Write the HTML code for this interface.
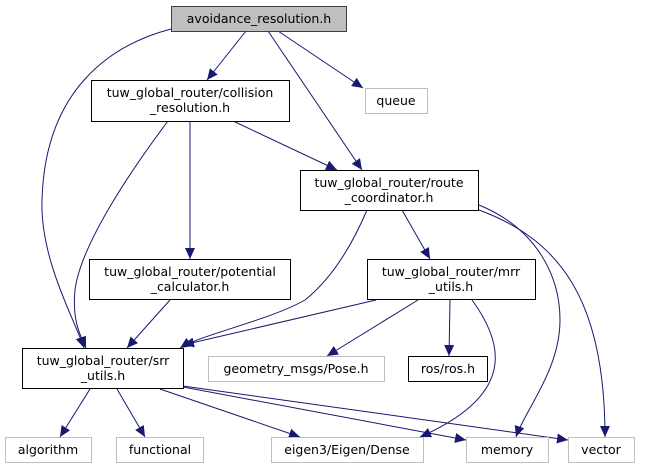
<!DOCTYPE html>
<html><head><meta charset="utf-8"><style>
html,body{margin:0;padding:0;background:#fff;}
svg{display:block;}
text{font-family:"DejaVu Sans","Liberation Sans",sans-serif;font-size:12.5px;fill:#000;text-anchor:middle;}
</style></head><body>
<svg width="649" height="469" viewBox="0 0 649 469" xmlns="http://www.w3.org/2000/svg">
<defs>
<marker id="a" markerUnits="userSpaceOnUse" markerWidth="12" markerHeight="10" refX="11" refY="5" orient="auto">
<path d="M0,0 L11,5 L0,10 Z" fill="#191970"/>
</marker>
</defs>
<g fill="none" stroke="#191970" stroke-width="1" marker-end="url(#a)">
<path d="M246,31 L207,80"/>
<path d="M268,31 L362,170"/>
<path d="M278,31 L363,88"/>
<path d="M171,29 C110,45 45,90 42,200 C40,260 75,320 84,348"/>
<path d="M168,121 C120,185 80,250 75,290 C72,320 80,335 86,348"/>
<path d="M190,121 L190,259"/>
<path d="M233,121 L337,170"/>
<path d="M367,210 C350,250 330,280 305,300 C270,320 200,335 180,348"/>
<path d="M402,210 L430,259"/>
<path d="M479,205 C540,230 560,280 560,320 C560,370 525,410 516,437"/>
<path d="M479,210 C560,240 605,300 605,437"/>
<path d="M170,300 L127,348"/>
<path d="M376,300 L183,345"/>
<path d="M418,300 L327,356"/>
<path d="M450,300 L449,356"/>
<path d="M472,300 C505,345 515,395 420,437"/>
<path d="M90,389 L60,437"/>
<path d="M117,389 L145,437"/>
<path d="M160,389 L300,437"/>
<path d="M183,387 L466,440"/>
<path d="M183,386 L568,440"/>
</g>
<g stroke-width="1">
<rect x="171.5" y="6.5" width="175" height="25" fill="#bfbfbf" stroke="#404040"/>
<rect x="91.5" y="80.5" width="198" height="41" fill="#fff" stroke="#000"/>
<rect x="365.5" y="88.5" width="62" height="25" fill="#fff" stroke="#bfbfbf"/>
<rect x="300.5" y="170.5" width="178" height="40" fill="#fff" stroke="#000"/>
<rect x="89.5" y="259.5" width="201" height="40" fill="#fff" stroke="#000"/>
<rect x="367.5" y="259.5" width="168" height="40" fill="#fff" stroke="#000"/>
<rect x="22.5" y="348.5" width="161" height="40" fill="#fff" stroke="#000"/>
<rect x="208.5" y="356.5" width="176" height="25" fill="#fff" stroke="#bfbfbf"/>
<rect x="408.5" y="356.5" width="79" height="25" fill="#fff" stroke="#000"/>
<rect x="5.5" y="437.5" width="86" height="25" fill="#fff" stroke="#bfbfbf"/>
<rect x="116.5" y="437.5" width="87" height="25" fill="#fff" stroke="#bfbfbf"/>
<rect x="271.5" y="437.5" width="152" height="25" fill="#fff" stroke="#bfbfbf"/>
<rect x="466.5" y="437.5" width="82" height="25" fill="#fff" stroke="#bfbfbf"/>
<rect x="568.5" y="437.5" width="66" height="25" fill="#fff" stroke="#bfbfbf"/>
</g>
<text x="259" y="23">avoidance_resolution.h</text>
<text x="190" y="97">tuw_global_router/collision</text>
<text x="190" y="112">_resolution.h</text>
<text x="396" y="105">queue</text>
<text x="389" y="187">tuw_global_router/route</text>
<text x="389" y="202">_coordinator.h</text>
<text x="190" y="276">tuw_global_router/potential</text>
<text x="190" y="291">_calculator.h</text>
<text x="451" y="276">tuw_global_router/mrr</text>
<text x="451" y="291">_utils.h</text>
<text x="103" y="365">tuw_global_router/srr</text>
<text x="103" y="380">_utils.h</text>
<text x="296" y="373">geometry_msgs/Pose.h</text>
<text x="448" y="373">ros/ros.h</text>
<text x="48" y="454">algorithm</text>
<text x="160" y="454">functional</text>
<text x="347" y="454">eigen3/Eigen/Dense</text>
<text x="507" y="454">memory</text>
<text x="601" y="454">vector</text>
</svg>
</body></html>
